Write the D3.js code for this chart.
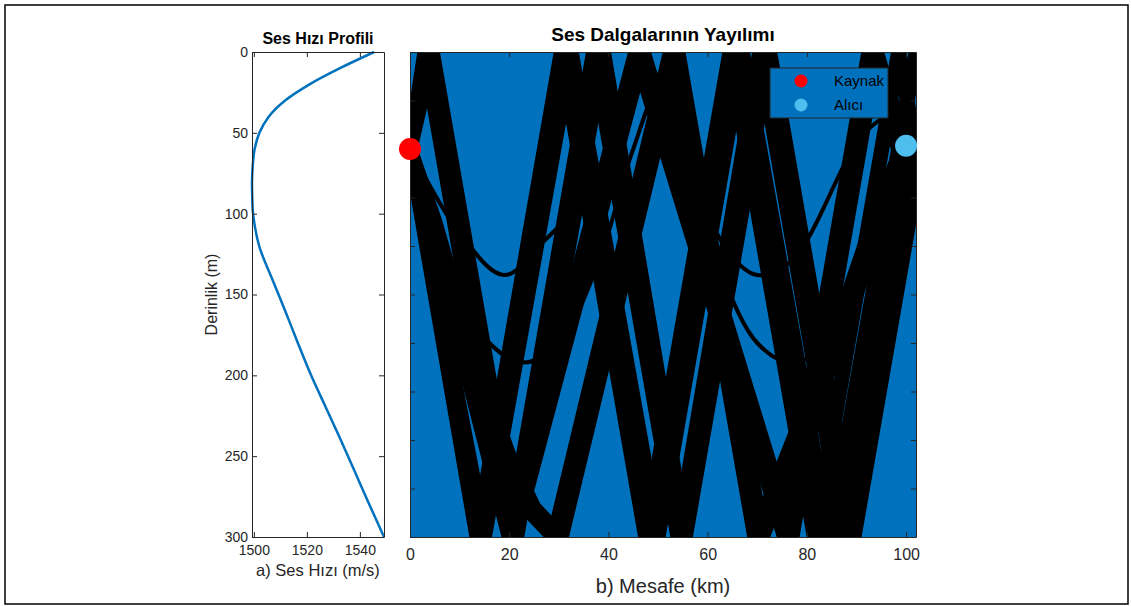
<!DOCTYPE html>
<html>
<head>
<meta charset="utf-8">
<script src="https://cdn.jsdelivr.net/npm/d3@7/dist/d3.min.js"></script>
<style>
body{margin:0;background:#fff;}
text{font-family:"Liberation Sans",Arial,Helvetica,sans-serif;}
</style>
</head>
<body>
<div id="chart-area"></div>
<script>

// sound speed profile (depth m -> speed m/s)
var depths = [0,10,20,30,40,50,60,70,80,90,100,120,140,160,180,200,220,240,260,280,300];
var speeds = [1545.4,1532.5,1521.0,1511.8,1505.6,1502.1,1500.3,1499.6,1499.3,1499.4,1499.7,1502.0,1506.8,1511.8,1516.6,1521.6,1527.2,1532.8,1538.2,1543.6,1549.1];

var speedTicks = [1500,1520,1540];
var depthTicks = [0,50,100,150,200,250,300];
var rangeTicks = [0,20,40,60,80,100];
var rayDepthTicks = [0,30,60,90,120,150,180,210,240,270,300];

// rays: [range km, depth m], turning / reflection points
var rayDownA = [[0,60],[13.5,300],[30.5,0],[47.5,300],[64.5,0],[81.5,300],[98.5,0],[102,62]];
var rayDownB = [[0,60],[15,300],[32.5,0],[50,300],[67,0],[84.5,300],[102,0]];
var rayUpA = [[0,60],[3,0],[20,300],[37,0],[54,300],[70.5,0],[87.5,300],[102,48]];
var rayUpB = [[0,60],[4.5,0],[21.5,300],[39,0],[55.5,300],[72.5,0],[89.5,300],[102,80]];
var rayMidA = [[0,60],[20,300],[45.5,0],[75.5,300],[92.5,0],[102,95]];
var rayMidB = [[0,60],[21,300],[47,0],[77,300],[94,0],[102,80]];
var rayDeepA = [[0,60],[5,110],[10,165],[15,215],[20,257],[25,287],[29,300],[52.5,0],[69.5,300],[85,180],[95,90],[102,40]];
var rayDeepB = [[0,60],[5,105],[10,158],[15,207],[20,250],[25,282],[30.5,300],[54,0],[71,300],[86,185],[96,95],[102,55]];
var trappedA = [[0,60],[10,112],[19,138],[27,117],[36.7,84],[42,43],[48,10],[54,43],[60,100],[64.5,125],[70,138],[77,129],[90.7,53],[96,39],[102,25]];
var trappedB = [[0,60],[9,140],[16,180],[23,192],[30,180],[38,130],[45,60],[50,25],[55,60],[62,130],[70,180],[77,192],[84,180],[92,130],[99,60],[102,45]];

var thickRays = [rayDownA,rayDownB,rayUpA,rayUpB,rayMidA,rayMidB,rayDeepA,rayDeepB];
var thinRays = [trappedA,trappedB];

var source = [0,60];
var receiver = [100,58];
var legendLabels = ["Kaynak","Alıcı"];
var legendColors = ["#ff0000","#4dbeee"];

var svg = d3.select('#chart-area').append('svg')
            .attr("width",1131)
            .attr("height",606);

svg.append('rect')
   .attr("x",5).attr("y",5)
   .attr("width",1123).attr("height",599)
   .attr("fill","#fff")
   .attr("stroke","#000")
   .attr("stroke-width",1.5);

var axisColor = "#262626";

function styleAxis(g,size){
  g.selectAll("path").attr("stroke",axisColor);
  g.selectAll("line").attr("stroke",axisColor);
  g.selectAll("text").attr("fill",axisColor)
                     .attr("font-size",size+"px")
                     .attr("font-family","Liberation Sans, Arial, sans-serif");
}

// ---------- left panel: speed profile ----------
var L = {left:252,right:384,top:52,bottom:537};

var xs = d3.scaleLinear().domain(d3.extent(speeds)).range([L.left,L.right]);
var ys = d3.scaleLinear().domain([0,300]).range([L.top,L.bottom]);

var profileLine = d3.line()
                    .x(function(d,i){ return xs(speeds[i]); })
                    .y(function(d){ return ys(d); })
                    .curve(d3.curveCatmullRom);

svg.append('path')
   .datum(depths)
   .attr("d",profileLine)
   .attr("fill","none")
   .attr("stroke","#0072bd")
   .attr("stroke-width",2.5);

var fmt = d3.format("d");

var gx = svg.append('g').attr("transform","translate(0,"+L.bottom+")")
            .call(d3.axisBottom(xs).tickValues(speedTicks).tickFormat(fmt).tickSize(-5).tickSizeOuter(0).tickPadding(8));
styleAxis(gx,14);
var gxt = svg.append('g').attr("transform","translate(0,"+L.top+")")
             .call(d3.axisTop(xs).tickValues(speedTicks).tickSize(-5).tickSizeOuter(0).tickFormat(""));
styleAxis(gxt,14);
var gy = svg.append('g').attr("transform","translate("+L.left+",0)")
            .call(d3.axisLeft(ys).tickValues(depthTicks).tickFormat(fmt).tickSize(-5).tickSizeOuter(0).tickPadding(4));
styleAxis(gy,14);
var gyr = svg.append('g').attr("transform","translate("+L.right+",0)")
             .call(d3.axisRight(ys).tickValues(depthTicks).tickSize(-5).tickSizeOuter(0).tickFormat(""));
styleAxis(gyr,14);

svg.append('text')
   .attr("x",(L.left+L.right)/2).attr("y",44)
   .attr("text-anchor","middle")
   .attr("font-size","16px").attr("font-weight","bold")
   .attr("fill","#000")
   .text("Ses Hızı Profili");

svg.append('text')
   .attr("x",(L.left+L.right)/2).attr("y",576)
   .attr("text-anchor","middle")
   .attr("font-size","16.5px")
   .attr("fill",axisColor)
   .text("a) Ses Hızı (m/s)");

svg.append('text')
   .attr("transform","translate(217,"+((L.top+L.bottom)/2)+") rotate(-90)")
   .attr("text-anchor","middle")
   .attr("font-size","16px")
   .attr("fill",axisColor)
   .text("Derinlik (m)");

// ---------- right panel: ray paths ----------
var R = {left:410,right:916,top:52,bottom:537};

var xr = d3.scaleLinear().domain([0,102]).range([R.left,R.right]);
var yr = d3.scaleLinear().domain([0,300]).range([R.top,R.bottom]);

svg.append('clipPath').attr("id","rayclip")
   .append('rect')
   .attr("x",R.left).attr("y",R.top)
   .attr("width",R.right-R.left).attr("height",R.bottom-R.top);

svg.append('rect')
   .attr("x",R.left).attr("y",R.top)
   .attr("width",R.right-R.left).attr("height",R.bottom-R.top)
   .attr("fill","#0072bd");

var rayLine = d3.line()
                .x(function(d){ return xr(d[0]); })
                .y(function(d){ return yr(d[1]); });

var rays = svg.append('g').attr("clip-path","url(#rayclip)");

rays.selectAll('path.thick').data(thickRays).enter().append('path')
    .attr("class","thick")
    .attr("d",rayLine)
    .attr("fill","none")
    .attr("stroke","#000")
    .attr("stroke-width",15)
    .attr("stroke-linejoin","round");

rays.selectAll('path.thin').data(thinRays).enter().append('path')
    .attr("class","thin")
    .attr("d",rayLine.curve(d3.curveCatmullRom))
    .attr("fill","none")
    .attr("stroke","#000")
    .attr("stroke-width",4);

var rgx = svg.append('g').attr("transform","translate(0,"+R.bottom+")")
             .call(d3.axisBottom(xr).tickValues(rangeTicks).tickSize(-5).tickSizeOuter(0).tickPadding(12));
styleAxis(rgx,16);
var rgxt = svg.append('g').attr("transform","translate(0,"+R.top+")")
              .call(d3.axisTop(xr).tickValues(rangeTicks).tickSize(-5).tickSizeOuter(0).tickFormat(""));
styleAxis(rgxt,16);
var rgy = svg.append('g').attr("transform","translate("+R.left+",0)")
             .call(d3.axisLeft(yr).tickValues(rayDepthTicks).tickSize(-5).tickSizeOuter(0).tickFormat(""));
styleAxis(rgy,16);
var rgyr = svg.append('g').attr("transform","translate("+R.right+",0)")
              .call(d3.axisRight(yr).tickValues(rayDepthTicks).tickSize(-5).tickSizeOuter(0).tickFormat(""));
styleAxis(rgyr,16);

svg.append('circle')
   .attr("cx",xr(source[0])).attr("cy",yr(source[1]))
   .attr("r",11).attr("fill",legendColors[0]);
svg.append('circle')
   .attr("cx",xr(receiver[0])).attr("cy",yr(receiver[1]))
   .attr("r",11).attr("fill",legendColors[1]);

svg.append('text')
   .attr("x",(R.left+R.right)/2).attr("y",41)
   .attr("text-anchor","middle")
   .attr("font-size","19px").attr("font-weight","bold")
   .attr("fill","#000")
   .text("Ses Dalgalarının Yayılımı");

svg.append('text')
   .attr("x",(R.left+R.right)/2).attr("y",593)
   .attr("text-anchor","middle")
   .attr("font-size","20px")
   .attr("fill",axisColor)
   .text("b) Mesafe (km)");

// legend
var legend = svg.append('g');
legend.append('rect')
      .attr("x",770).attr("y",68)
      .attr("width",118).attr("height",50)
      .attr("fill","#0072bd")
      .attr("stroke",axisColor)
      .attr("stroke-width",1);

legendLabels.forEach(function(lab,i){
  legend.append('circle')
        .attr("cx",801).attr("cy",81+i*24)
        .attr("r",6.5).attr("fill",legendColors[i]);
  legend.append('text')
        .attr("x",834).attr("y",86+i*24)
        .attr("font-size","15px")
        .attr("fill","#000")
        .text(lab);
});

</script>
</body>
</html>
